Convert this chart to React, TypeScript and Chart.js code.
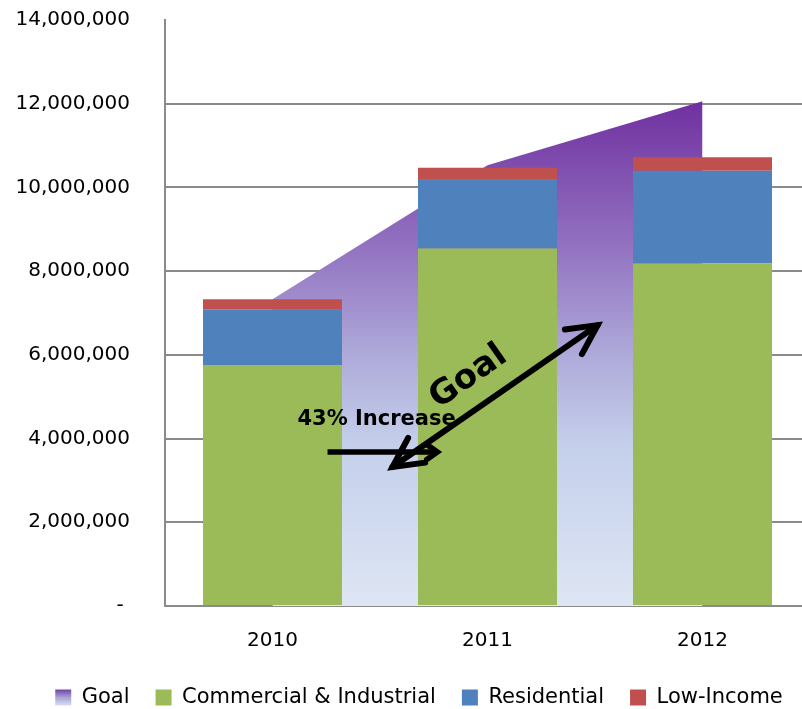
import React, { useEffect, useRef } from 'react';
import { Chart, registerables } from 'chart.js';

Chart.register(...registerables);

// ---- data ----
const categories = ['2010', '2011', '2012'];
const commercialIndustrial = [5760000, 8540000, 8180000];
const residential = [1330000, 1660000, 2220000];
const lowIncome = [240000, 270000, 320000];
const goal = [7330000, 10530000, 12060000];
const yMin = 0;
const yMax = 14000000;
const yStep = 2000000;

// annotations in data coordinates: [category index, value]
const goalArrow = [[0.558, 3320000], [1.512, 6710000]];
const increaseArrow = [[0.256, 3680000], [0.767, 3680000]];
const goalLabel = { text: 'Goal', x: 0.912, y: 5470000, angle: -35 };
const increaseLabel = { text: '43% Increase', x: 0.116, y: 4320000 };

const FONT = '"DejaVu Sans", sans-serif';
const GRID = '#8a8a8a';

function goalGradient(ctx: CanvasRenderingContext2D, top: number, bottom: number) {
  const g = ctx.createLinearGradient(0, top, 0, bottom);
  g.addColorStop(0, '#7030A0');
  g.addColorStop(0.3, '#9475C2');
  g.addColorStop(0.5, '#AEA9D9');
  g.addColorStop(0.68, '#C4CFEB');
  g.addColorStop(1, '#DEE6F4');
  return g;
}

function arrowHead(ctx: CanvasRenderingContext2D, tx: number, ty: number, fx: number, fy: number, len: number, ang: number) {
  const a = Math.atan2(ty - fy, tx - fx);
  ctx.beginPath();
  ctx.moveTo(tx - len * Math.cos(a - ang), ty - len * Math.sin(a - ang));
  ctx.lineTo(tx, ty);
  ctx.lineTo(tx - len * Math.cos(a + ang), ty - len * Math.sin(a + ang));
  ctx.stroke();
}

const annotationPlugin = {
  id: 'annotationsCustom',
  afterLayout(chart: any) {
    const legend = chart.legend;
    if (legend) {
      legend.left += 14;
      legend.right += 14;
    }
  },
  beforeDraw(chart: any) {
    const legend = chart.legend;
    if (legend && legend.legendHitBoxes && legend.legendHitBoxes.length && legend.legendItems) {
      const hb = legend.legendHitBoxes[0];
      const boxH = 16;
      const top = hb.top + Math.max((21 - boxH) / 2, 0);
      const g = chart.ctx.createLinearGradient(0, top, 0, top + boxH);
      g.addColorStop(0, '#7440A8');
      g.addColorStop(0.5, '#A9A3D6');
      g.addColorStop(1, '#D6DFF2');
      const item = legend.legendItems.find((it: any) => it.datasetIndex === 0);
      if (item) item.fillStyle = g;
    }
  },
  afterDatasetsDraw(chart: any) {
    const { ctx } = chart;
    const xs = chart.scales.x;
    const ys = chart.scales.y;
    const px = (v: number) => xs.getPixelForValue(v);
    const py = (v: number) => ys.getPixelForValue(v);
    ctx.save();
    ctx.strokeStyle = '#000';
    ctx.fillStyle = '#000';
    ctx.lineJoin = 'miter';

    // horizontal arrow
    ctx.lineWidth = 5.5;
    const h0x = px(increaseArrow[0][0]), h0y = py(increaseArrow[0][1]);
    const h1x = px(increaseArrow[1][0]), h1y = py(increaseArrow[1][1]);
    ctx.lineCap = 'butt';
    ctx.beginPath();
    ctx.moveTo(h0x, h0y);
    ctx.lineTo(h1x, h1y);
    ctx.stroke();
    ctx.lineCap = 'round';
    arrowHead(ctx, h1x, h1y, h0x, h0y, 13, (35 * Math.PI) / 180);

    // diagonal double arrow
    ctx.lineWidth = 6;
    const d0x = px(goalArrow[0][0]), d0y = py(goalArrow[0][1]);
    const d1x = px(goalArrow[1][0]), d1y = py(goalArrow[1][1]);
    ctx.beginPath();
    ctx.moveTo(d0x, d0y);
    ctx.lineTo(d1x, d1y);
    ctx.stroke();
    arrowHead(ctx, d1x, d1y, d0x, d0y, 33, (27 * Math.PI) / 180);
    arrowHead(ctx, d0x, d0y, d1x, d1y, 33, (27 * Math.PI) / 180);

    // texts
    ctx.font = `bold 21px ${FONT}`;
    ctx.textAlign = 'left';
    ctx.textBaseline = 'alphabetic';
    ctx.fillText(increaseLabel.text, px(increaseLabel.x), py(increaseLabel.y));

    ctx.save();
    ctx.translate(px(goalLabel.x), py(goalLabel.y));
    ctx.rotate((goalLabel.angle * Math.PI) / 180);
    ctx.font = `bold 34px ${FONT}`;
    ctx.textAlign = 'center';
    ctx.textBaseline = 'middle';
    ctx.fillText(goalLabel.text, 0, 0);
    ctx.restore();

    ctx.restore();
  },
};

export default function App() {
  const ref = useRef<HTMLCanvasElement | null>(null);

  useEffect(() => {
    if (!ref.current) return;
    const chart = new Chart(ref.current, {
      type: 'bar',
      data: {
        labels: categories,
        datasets: [
          {
            type: 'line',
            label: 'Goal',
            data: goal,
            stack: 'goal',
            order: 2,
            fill: 'origin',
            tension: 0,
            borderWidth: 0,
            borderColor: 'rgba(0,0,0,0)',
            pointRadius: 0,
            pointHoverRadius: 0,
            backgroundColor: (c: any) => {
              const chart = c.chart;
              if (!chart.chartArea) return 'rgba(0,0,0,0)';
              const ys = chart.scales.y;
              return goalGradient(chart.ctx, ys.getPixelForValue(Math.max(...goal)), ys.getPixelForValue(0));
            },
          } as any,
          {
            label: 'Commercial & Industrial',
            data: commercialIndustrial,
            backgroundColor: '#9BBB59',
            stack: 'bars',
            order: 1,
          },
          {
            label: 'Residential',
            data: residential,
            backgroundColor: '#4F81BD',
            stack: 'bars',
            order: 1,
          },
          {
            label: 'Low-Income',
            data: lowIncome,
            backgroundColor: '#C0504D',
            stack: 'bars',
            order: 1,
          },
        ],
      },
      options: {
        responsive: false,
        animation: false,
        events: [],
        layout: { padding: { left: 0, top: 20, right: 0, bottom: 0 } },
        datasets: {
          bar: { categoryPercentage: 1, barPercentage: 0.6465 },
        },
        scales: {
          x: {
            stacked: true,
            grid: { display: false },
            border: { display: true, color: GRID, width: 2 },
            ticks: {
              color: '#000',
              padding: 15,
              font: { family: FONT, size: 20 },
            },
            afterFit: (s: any) => {
              s.height = 55;
              s.paddingLeft = 0;
              s.paddingRight = 0;
            },
          },
          y: {
            stacked: true,
            min: yMin,
            max: yMax,
            border: { display: true, color: GRID, width: 2 },
            grid: {
              drawTicks: false,
              lineWidth: 2,
              color: (c: any) => (c.tick && c.tick.value === yMax ? 'rgba(0,0,0,0)' : GRID),
            },
            ticks: {
              stepSize: yStep,
              padding: 35,
              color: '#000',
              font: { family: FONT, size: 20 },
              callback: (v: any) => (Number(v) === 0 ? '- ' : Number(v).toLocaleString('en-US')),
            },
            afterFit: (s: any) => {
              s.width = 165;
              s.paddingTop = 12;
              s.paddingBottom = 12;
            },
          },
        },
        plugins: {
          tooltip: { enabled: false },
          legend: {
            position: 'bottom',
            labels: {
              color: '#000',
              boxWidth: 16,
              boxHeight: 16,
              padding: 26,
              font: { family: FONT, size: 21 },
              sort: (a: any, b: any) => a.datasetIndex - b.datasetIndex,
            },
          },
        },
      },
      plugins: [annotationPlugin],
    });
    return () => chart.destroy();
  }, []);

  return (
    <div style={{ position: 'fixed', left: 0, top: 0, width: 802, height: 709, overflow: 'hidden', background: '#fff' }}>
      <canvas ref={ref} width={810} height={718} style={{ display: 'block', width: 810, height: 718 }} />
    </div>
  );
}
